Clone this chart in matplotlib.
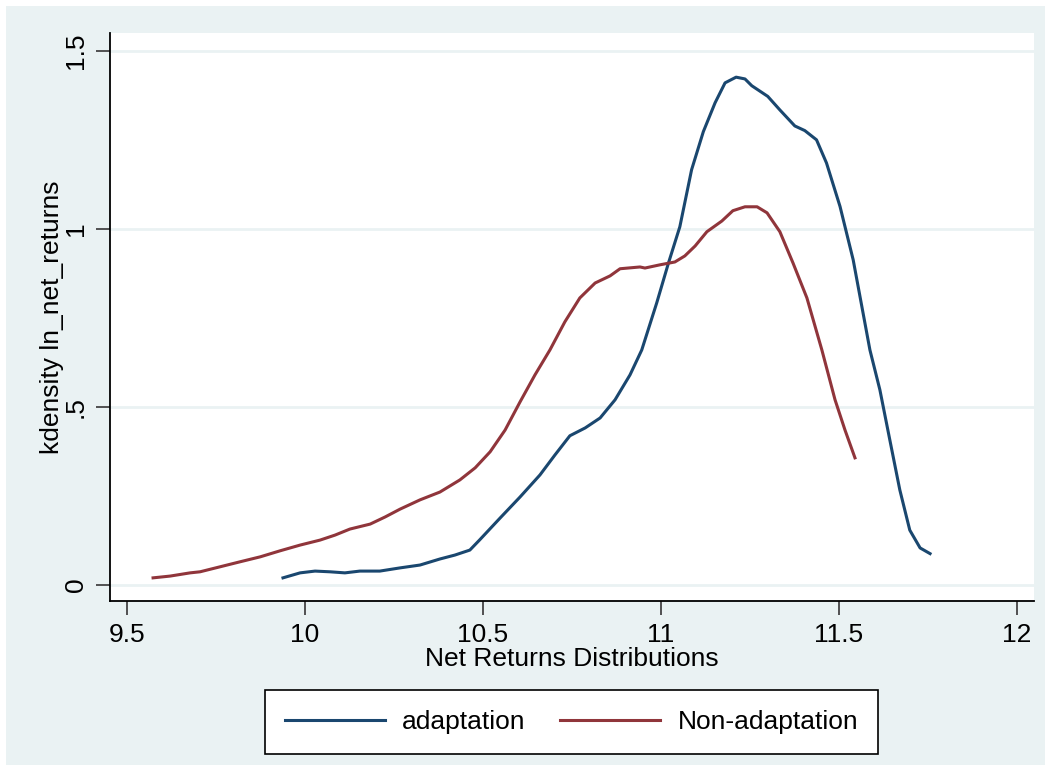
import matplotlib.pyplot as plt
from matplotlib.patches import Rectangle

plt.rcParams['font.family'] = ['Liberation Sans', 'DejaVu Sans']

# adaptation kdensity
adapt_x = [9.938, 9.986, 10.028, 10.07, 10.112, 10.154, 10.21, 10.267, 10.323, 10.379,
           10.421, 10.463, 10.49, 10.548, 10.604, 10.66, 10.702, 10.744, 10.787, 10.829,
           10.871, 10.913, 10.946, 10.988, 11.021, 11.053, 11.086, 11.119, 11.152, 11.18,
           11.211, 11.236, 11.255, 11.3, 11.334, 11.376, 11.404, 11.437, 11.465, 11.503,
           11.54, 11.587, 11.615, 11.643, 11.671, 11.699, 11.728, 11.756]
adapt_y = [0.02, 0.034, 0.039, 0.037, 0.034, 0.039, 0.039, 0.048, 0.056, 0.073,
           0.084, 0.098, 0.126, 0.188, 0.247, 0.309, 0.365, 0.419, 0.441, 0.469,
           0.52, 0.59, 0.66, 0.792, 0.904, 1.006, 1.166, 1.273, 1.354, 1.41,
           1.426, 1.421, 1.402, 1.372, 1.334, 1.289, 1.276, 1.25, 1.185, 1.063,
           0.913, 0.66, 0.548, 0.407, 0.267, 0.154, 0.104, 0.088]

# non-adaptation kdensity
nonad_x = [9.573, 9.621, 9.677, 9.705, 9.761, 9.817, 9.874, 9.93, 9.986, 10.042,
           10.084, 10.126, 10.183, 10.225, 10.267, 10.323, 10.379, 10.435, 10.478, 10.52,
           10.562, 10.604, 10.646, 10.688, 10.73, 10.772, 10.815, 10.857, 10.885, 10.941,
           10.955, 10.997, 11.039, 11.067, 11.096, 11.129, 11.171, 11.202, 11.236, 11.27,
           11.298, 11.334, 11.371, 11.41, 11.452, 11.489, 11.517, 11.545]
nonad_y = [0.02, 0.025, 0.034, 0.037, 0.051, 0.065, 0.079, 0.096, 0.112, 0.126,
           0.14, 0.157, 0.171, 0.191, 0.213, 0.239, 0.261, 0.295, 0.329, 0.374,
           0.435, 0.514, 0.59, 0.66, 0.739, 0.806, 0.848, 0.868, 0.888, 0.893,
           0.89, 0.899, 0.907, 0.924, 0.952, 0.992, 1.022, 1.051, 1.062, 1.062,
           1.045, 0.992, 0.904, 0.806, 0.66, 0.52, 0.435, 0.357]

x_ticks = [9.5, 10, 10.5, 11, 11.5, 12]
x_tick_labels = ['9.5', '10', '10.5', '11', '11.5', '12']
y_ticks = [0, 0.5, 1, 1.5]
y_tick_labels = ['0', '.5', '1', '1.5']

bg = '#EAF2F3'
W, H = 1051, 771
fig = plt.figure(figsize=(W / 100, H / 100), dpi=100, facecolor='white')
fig.patches.append(Rectangle((6 / W, 6 / H), 1 - 12 / W, 1 - 12 / H,
                             transform=fig.transFigure, facecolor=bg,
                             edgecolor='none', zorder=-10))

ax = fig.add_axes([110 / W, 1 - 601 / H, (1034 - 110) / W, (601 - 33) / H])
ax.set_facecolor('white')

ax.plot(adapt_x, adapt_y, color='#1A476F', lw=2.2, label='adaptation')
ax.plot(nonad_x, nonad_y, color='#90353B', lw=2.2, label='Non-adaptation')

ax.set_xlim(9.452, 12.048)
ax.set_ylim(-0.045, 1.55)
ax.set_xticks(x_ticks)
ax.set_xticklabels(x_tick_labels)
ax.set_yticks(y_ticks)
ax.set_yticklabels(y_tick_labels, rotation=90, va='center')
ax.grid(axis='y', color=bg, lw=2)
ax.set_axisbelow(True)

for s in ['top', 'right']:
    ax.spines[s].set_visible(False)
for s in ['left', 'bottom']:
    ax.spines[s].set_color('black')
    ax.spines[s].set_linewidth(1.3)

ax.tick_params(axis='both', length=10, width=1.3, color='#444444',
               labelsize=19, pad=6)

ax.set_xlabel('Net Returns Distributions', fontsize=19, labelpad=0)
ax.set_ylabel('kdensity ln_net_returns', fontsize=19, labelpad=0)

leg = fig.legend(loc='center', bbox_to_anchor=(571.5 / W, 1 - 722 / H), ncol=2,
                 fontsize=19, handlelength=3.8, columnspacing=1.3,
                 fancybox=False, frameon=True, framealpha=1, borderpad=0.75,
                 handletextpad=0.65)
leg.get_frame().set_edgecolor('black')
leg.get_frame().set_linewidth(1.2)

fig.savefig('out.png', dpi=100, facecolor=fig.get_facecolor())
